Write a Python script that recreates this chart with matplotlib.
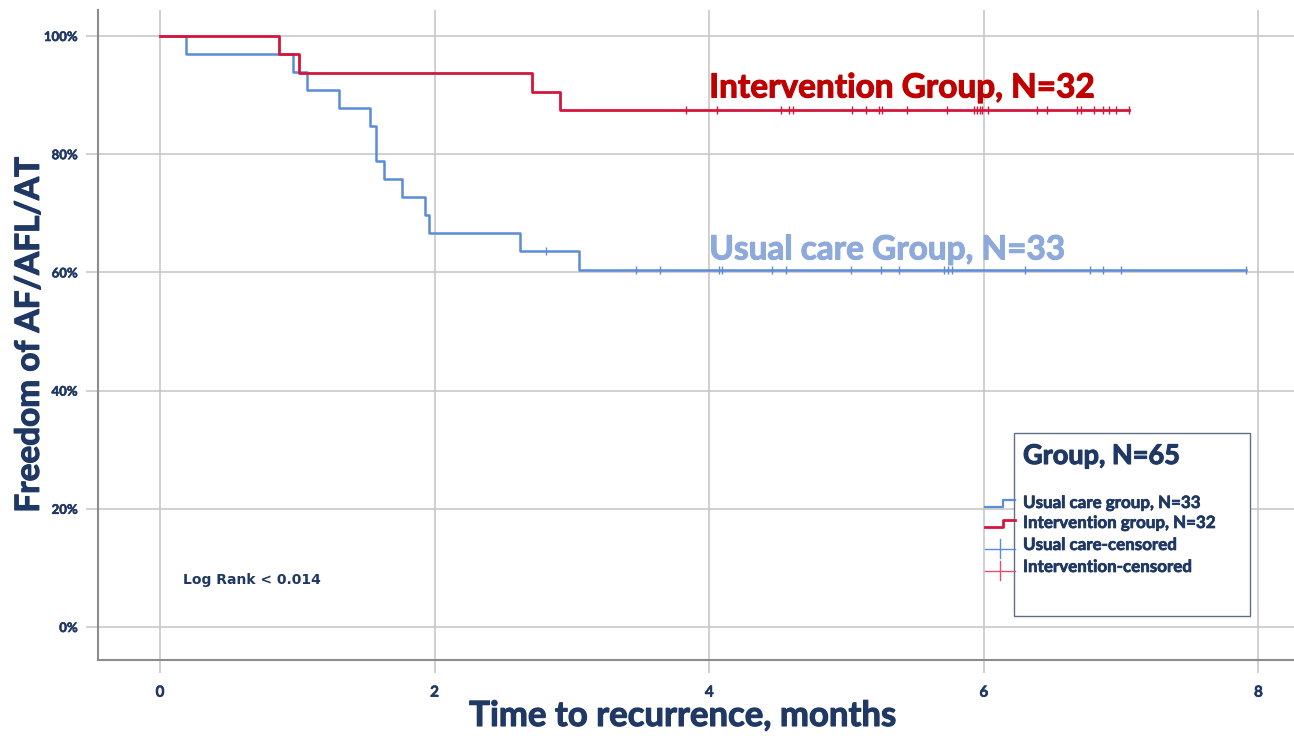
import numpy as np
import matplotlib.pyplot as plt
import matplotlib.patheffects as pe
from matplotlib.lines import Line2D
from matplotlib.patches import Rectangle

# ---------------- data ----------------
# usual care group, N=33 : event times (months) and survival after each step
blue_times = [0, 0.19, 0.97, 1.07, 1.30, 1.53, 1.57, 1.63, 1.76, 1.93, 1.96, 2.62, 3.05]
blue_surv = [1.0, 0.970, 0.939, 0.909, 0.879, 0.848, 0.788, 0.758, 0.727, 0.697, 0.667, 0.636, 0.604]
blue_end = 7.91
blue_cens = [2.81, 3.47, 3.64, 4.07, 4.09, 4.46, 4.56, 5.03, 5.25, 5.38, 5.71, 5.74, 5.77,
             6.30, 6.77, 6.87, 7.00, 7.91]

# intervention group, N=32
red_times = [0, 0.87, 1.01, 2.71, 2.91]
red_surv = [1.0, 0.969, 0.938, 0.906, 0.875]
red_end = 7.06
red_cens = [3.83, 4.06, 4.52, 4.58, 4.61, 5.04, 5.14, 5.24, 5.26, 5.44, 5.73, 5.93, 5.95,
            5.97, 5.99, 6.03, 6.39, 6.46, 6.68, 6.71, 6.80, 6.87, 6.91, 6.96, 7.06]

x_ticks = [0, 2, 4, 6, 8]
y_ticks = [0, 0.2, 0.4, 0.6, 0.8, 1.0]
y_labels = ["0%", "20%", "40%", "60%", "80%", "100%"]

BLUE = "#5b8cd8"
RED = "#d4163c"
NAVY = "#1f3864"
GRID = "#c8c8c8"


def heavy(color, w=0.8):
    # Lato Bold is the heaviest installed, thicken it a bit
    return [pe.withStroke(linewidth=w, foreground=color)]


W, H = 1294, 736
fig = plt.figure(figsize=(W / 100, H / 100), dpi=100)
ax = fig.add_axes([98 / W, 76 / H, 1 - 98 / W, 650 / H])


def fx(px):
    return px / W


def fy(py):
    return 1 - py / H


def step_xy(times, surv, end):
    t = list(times) + [end]
    s = list(surv) + [surv[-1]]
    return t, s


def surv_at(times, surv, t):
    idx = np.searchsorted(times, t, side="right") - 1
    return np.array(surv)[idx]


bx, by = step_xy(blue_times, blue_surv, blue_end)
rx, ry = step_xy(red_times, red_surv, red_end)
ax.step(bx, by, where="post", color=BLUE, lw=1.8, zorder=3)
ax.step(rx, ry, where="post", color=RED, lw=2.0, zorder=4)

ax.plot(blue_cens, surv_at(blue_times, blue_surv, blue_cens), ls="none", marker="|",
        ms=6, mew=1.0, color=BLUE, zorder=3)
ax.plot(red_cens, surv_at(red_times, red_surv, red_cens), ls="none", marker="|",
        ms=6, mew=1.0, color=RED, zorder=4)

ax.set_xlim(-0.4516, 8.259)
ax.set_ylim(-0.0558, 1.044)
ax.set_xticks(x_ticks)
ax.set_yticks(y_ticks)
ax.set_yticklabels(y_labels)
ax.grid(True, color=GRID, lw=1.2)
ax.set_axisbelow(True)

for s in ["top", "right"]:
    ax.spines[s].set_visible(False)
for s in ["left", "bottom"]:
    ax.spines[s].set_color("#8c8c8c")
    ax.spines[s].set_linewidth(1.5)

ax.tick_params(axis="x", length=9.5, width=1.2, color=GRID, pad=9,
               labelsize=11, labelcolor=NAVY)
ax.tick_params(axis="y", length=8.5, width=1.2, color=GRID, pad=6,
               labelsize=9.5, labelcolor=NAVY)
for lab in ax.get_xticklabels() + ax.get_yticklabels():
    lab.set_fontfamily("Lato")
    lab.set_fontweight("bold")
    lab.set_path_effects(heavy(NAVY, 0.4))

xl = ax.set_xlabel("Time to recurrence, months", fontsize=25, fontweight="bold",
                   color=NAVY, family="Lato", va="center")
xl.set_path_effects(heavy(NAVY))
ax.xaxis.set_label_coords((683 - 98) / (W - 98), -(716 - 660) / 650)
yl = ax.set_ylabel("Freedom of AF/AFL/AT", fontsize=24, fontweight="bold",
                   color=NAVY, family="Lato", labelpad=0)
yl.set_path_effects(heavy(NAVY))

# group labels on the curves
ax.text(4.0, 0.896, "Intervention Group, N=32", color="#c00000", fontsize=24,
        fontweight="bold", family="Lato", va="baseline", ha="left",
        path_effects=heavy("#c00000"))
ax.text(4.0, 0.622, "Usual care Group, N=33", color="#8eaadb", fontsize=24,
        fontweight="bold", family="Lato", va="baseline", ha="left",
        path_effects=heavy("#8eaadb"))

ax.text(0.17, 0.08, "Log Rank < 0.014", color=NAVY, fontsize=10,
        fontweight="bold", family="DejaVu Sans", va="center", ha="left")

# legend box drawn by hand (handles stick out on the left, as in the original)
fig.add_artist(Rectangle((fx(1014), fy(616)), fx(1250) - fx(1014), fy(433) - fy(616),
                         transform=fig.transFigure, facecolor="white",
                         edgecolor="#5e6f85", lw=1.0, zorder=5))
fig.text(fx(1023), fy(456), "Group, N=65", color=NAVY, fontsize=19.5,
         fontweight="bold", family="Lato", va="center", ha="left", zorder=6,
         path_effects=heavy(NAVY))
entries = ["Usual care group, N=33", "Intervention group, N=32",
           "Usual care-censored", "Intervention-censored"]
ys = [503, 523, 545, 567]
for txt, yy in zip(entries, ys):
    fig.text(fx(1023), fy(yy), txt, color=NAVY, fontsize=12.2, fontweight="bold",
             family="Lato", va="center", ha="left", zorder=6,
             path_effects=heavy(NAVY, 0.5))

for col, yy, lw in [(BLUE, 503, 1.6), (RED, 523, 2.0)]:
    fig.add_artist(Line2D([fx(985), fx(1003), fx(1003), fx(1015)],
                          [fy(yy + 4), fy(yy + 4), fy(yy - 3), fy(yy - 3)],
                          transform=fig.transFigure, color=col, lw=lw, zorder=6))
for col, yy in [(BLUE, 545), ("#e0506e", 567)]:
    fig.add_artist(Line2D([fx(985), fx(1015)], [fy(yy + 4), fy(yy + 4)],
                          transform=fig.transFigure, color=col, lw=1.0, zorder=6))
    fig.add_artist(Line2D([fx(1000), fx(1000)], [fy(yy - 6), fy(yy + 13)],
                          transform=fig.transFigure, color=col, lw=1.0, zorder=6))

fig.savefig("out.png", dpi=100)
